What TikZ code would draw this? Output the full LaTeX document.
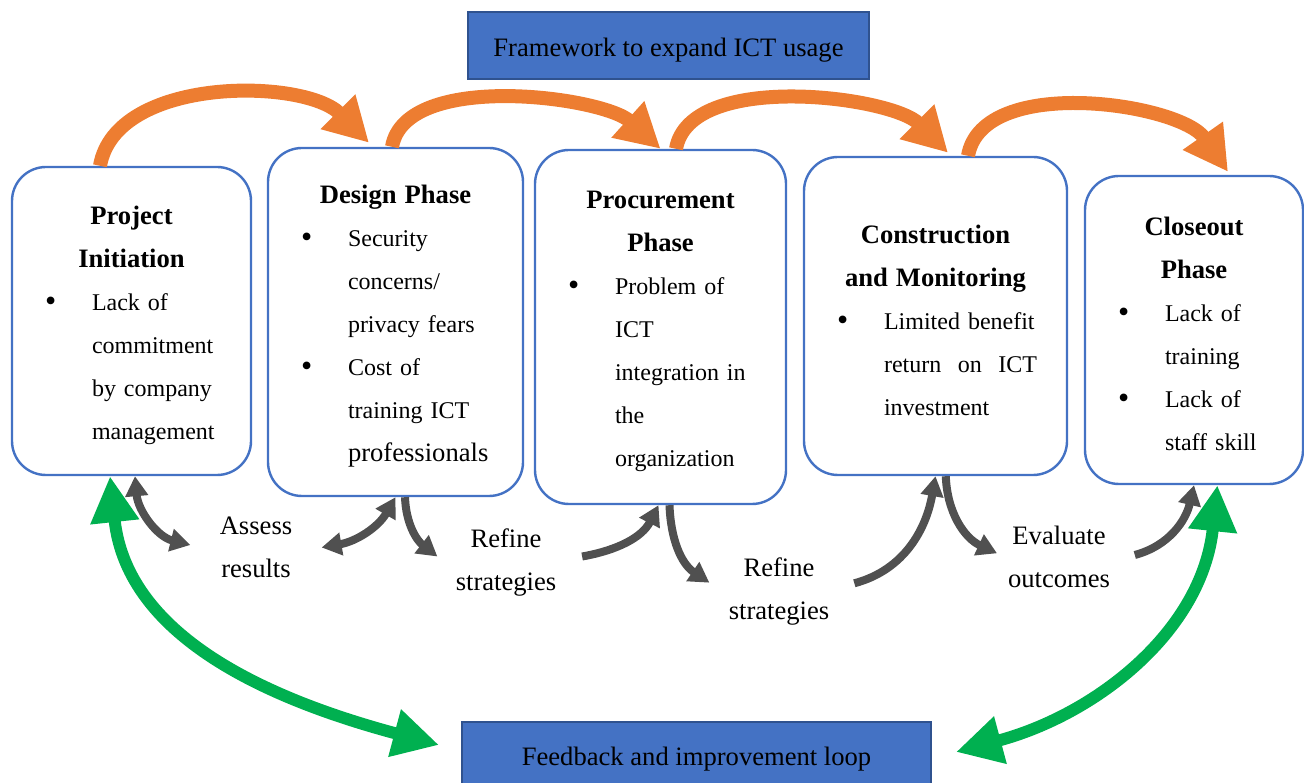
\documentclass[tikz,border=0pt]{standalone}
\usepackage{fontspec}
\setmainfont{Liberation Serif}
\usetikzlibrary{arrows.meta}

\definecolor{phaseblue}{HTML}{4472C4}
\definecolor{darkblue}{HTML}{2F528F}
\definecolor{flowgold}{HTML}{ED7D31}
\definecolor{loopgreen}{HTML}{00B050}
\definecolor{stepgray}{HTML}{505050}

\newcommand{\phasetitle}[1]{{\centering\fontsize{13.3}{21.5}\selectfont\bfseries\rule{0pt}{13.3pt}#1\par}}
\newcommand{\phasebullet}{\raisebox{-0.6pt}{\fontsize{16}{16}\selectfont\textbullet}}
\newcommand{\phaseitem}[1]{{\raggedright\let\\\newline
  \hangindent=25pt\hangafter=1\noindent
  \hspace*{1.5pt}\makebox[23.5pt][l]{\phasebullet}#1\par}}

\begin{document}
\begin{tikzpicture}[
    x=0.5pt, y=0.5pt,
    phase/.style={draw=phaseblue, line width=1.2pt, rounded corners=17pt, fill=white,
        inner xsep=15pt, inner ysep=0pt, font=\fontsize{12}{21.5}\selectfont},
    banner/.style={fill=phaseblue, draw=darkblue, line width=1pt, inner sep=0pt,
        font=\fontsize{13.3}{16}\selectfont},
    note/.style={align=center, inner sep=0pt, font=\fontsize{13.3}{21.5}\selectfont},
    flow/.style={draw=flowgold, line width=7pt, -{Triangle[length=22pt,width=23pt]}},
    iter/.style={draw=stepgray, line width=4pt, -{Triangle[length=10pt,width=11pt]}},
    iterboth/.style={iter, {Triangle[length=10pt,width=11pt]}-{Triangle[length=10pt,width=11pt]}},
    feedbackloop/.style={draw=loopgreen, line width=6pt,
        {Triangle[length=23pt,width=23pt]}-{Triangle[length=23pt,width=23pt]}}
]
\useasboundingbox (0,0) rectangle (1304,782);

\node[banner, minimum width=200.5pt, minimum height=33.5pt, text height=11pt, text depth=0.2pt]
    (frame) at (668.5,736.5) {Framework to expand ICT usage};
\node[banner, minimum width=234.5pt, minimum height=35pt, text height=9pt, text depth=0.2pt]
    (feedback) at (696.5,25) {Feedback and improvement loop};

% phases
\node[phase, text width=89.5pt, minimum height=154pt] (init) at (131.5,461)
    {\phasetitle{Project\\Initiation}
     \phaseitem{Lack of\\commitment\\by company\\management}};
\node[phase, text width=97.5pt, minimum height=174pt] (design) at (395.5,460)
    {\phasetitle{Design Phase}
     \phaseitem{Security\\concerns/\\privacy fears}
     \phaseitem{Cost of\\training ICT\\{\fontsize{13.3}{21.5}\selectfont professionals}}};
\node[phase, text width=95.5pt, minimum height=177pt] (procure) at (660.5,455)
    {\phasetitle{Procurement\\Phase}
     \phaseitem{Problem of\\ICT\\integration in\\the\\organization}};
\node[phase, text width=101.5pt, minimum height=159pt] (construct) at (935.5,466)
    {\phasetitle{Construction\\and Monitoring}
     \phaseitem{Limited benefit\\return\hfill on\hfill ICT\\investment}};
\node[phase, text width=79pt, minimum height=154pt] (closeout) at (1194,452)
    {\phasetitle{Closeout\\Phase}
     \phaseitem{Lack of\\training}
     \phaseitem{Lack of\\staff skill}};

\node[note] (assess) at (256,234.5) {Assess\\results};
\node[note] (refine1) at (506,219.5) {Refine\\strategies};
\node[note] (refine2) at (779,190.5) {Refine\\strategies};
\node[note] (evaluate) at (1059,225.5) {Evaluate\\outcomes};

% phase to phase
\draw[flow] ([xshift=-15.75pt]init.north) to[out=80,in=135,looseness=0.87]
    ([xshift=-13.25pt,yshift=2pt]design.north);
\draw[flow] ([xshift=-1.75pt]design.north) to[out=80,in=138,looseness=0.74]
    (procure.north);
\draw[flow] ([xshift=7.75pt]procure.north) to[out=80,in=135,looseness=0.75]
    ([xshift=6.25pt,yshift=1.5pt]construct.north);
\draw[flow] ([xshift=16.25pt]construct.north) to[out=80,in=125,looseness=0.82]
    ([xshift=17pt,yshift=1.5pt]closeout.north);

% small loops under the phases
\draw[iterboth] ([xshift=1.75pt]init.south) to[out=-85,in=166]
    ([xshift=-14.5pt,yshift=1.25pt]assess.west);
\draw[iterboth] ([xshift=14.5pt]assess.east) to[out=10,in=-120] (design.south);
\draw[iter] ([xshift=4.75pt]design.south) to[out=-88,in=142]
    ([xshift=-9pt,yshift=3pt]refine1.west);
\draw[iter] ([xshift=12.75pt,yshift=3pt]refine1.east) to[out=10,in=-117]
    ([xshift=-1pt]procure.south);
\draw[iter] ([xshift=4.5pt]procure.south) to[out=-88,in=146]
    ([xshift=-9.5pt,yshift=4.4pt]refine2.west);
\draw[iter] ([xshift=12.35pt,yshift=4.1pt]refine2.east) to[out=15,in=-100]
    (construct.south);
\draw[iter] ([xshift=5.15pt]construct.south) to[out=-88,in=155]
    ([xshift=-5.3pt,yshift=1.6pt]evaluate.west);
\draw[iter] ([xshift=12.2pt,yshift=0.75pt]evaluate.east) to[out=15,in=-103]
    (closeout.south);

% feedback
\draw[feedbackloop] ([xshift=-10.75pt]init.south) to[out=-84,in=165]
    ([xshift=-11pt,yshift=6pt]feedback.west);
\draw[feedbackloop] ([xshift=11.7pt]closeout.south) to[out=-96,in=15]
    ([xshift=12pt,yshift=2.5pt]feedback.east);

\end{tikzpicture}
\end{document}
